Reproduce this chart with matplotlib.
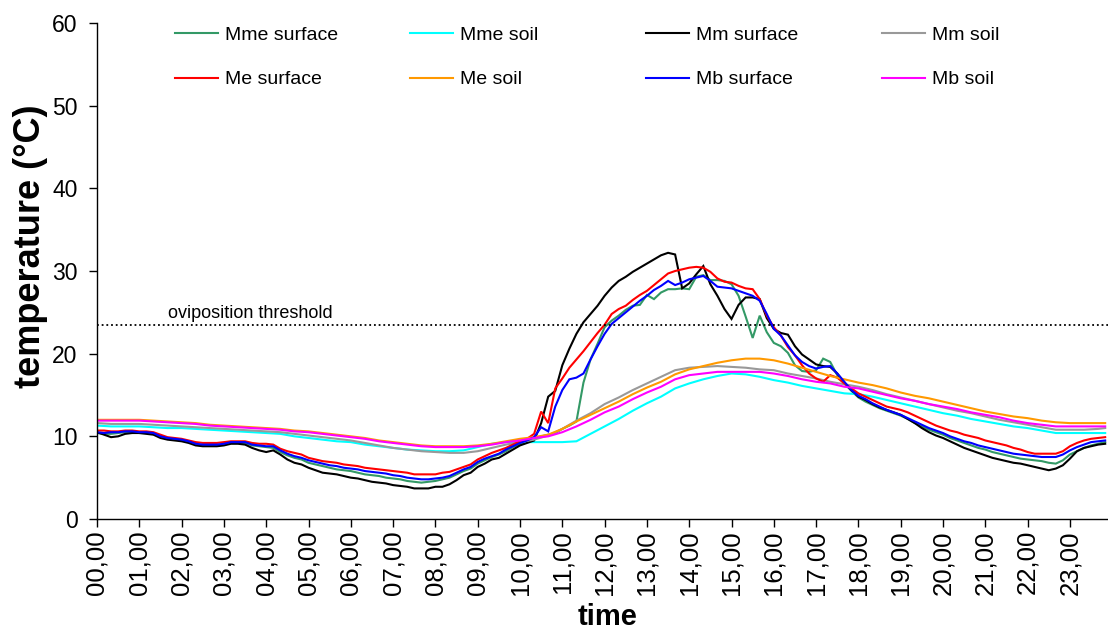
import numpy as np
import matplotlib
matplotlib.use("Agg")
import matplotlib.pyplot as plt

plt.rcParams['font.family'] = ['Liberation Sans', 'DejaVu Sans']

# ---- time axes (hours) ----
t_surf = np.arange(144) / 6.0                        # 10-minute logger readings
t_soil = np.append(np.arange(72) / 3.0, 23 + 5 / 6)  # 20-minute readings

hour_labels = [f"{h:02d},00" for h in range(24)]
threshold = 23.5

# ---- surface temperatures (°C), 10-minute steps ----
mme_surface = [
    10.4, 10.3, 10.3, 10.4, 10.5, 10.5,
    10.4, 10.4, 10.3, 9.9, 9.7, 9.6,
    9.5, 9.3, 9.0, 8.9, 8.9, 8.9,
    9.0, 9.2, 9.2, 9.2, 8.9, 8.8,
    8.7, 8.6, 8.1, 7.7, 7.4, 7.2,
    6.8, 6.6, 6.4, 6.2, 6.0, 5.9,
    5.8, 5.6, 5.4, 5.3, 5.2, 5.0,
    4.9, 4.8, 4.6, 4.5, 4.4, 4.5,
    4.6, 4.8, 5.0, 5.4, 5.8, 6.1,
    6.7, 7.1, 7.5, 7.8, 8.2, 8.7,
    9.1, 9.4, 9.7, 10.0, 10.2, 10.4,
    10.9, 11.3, 11.8, 16.5, 19.3, 21.2,
    23.2, 24.0, 24.6, 25.3, 25.8, 25.9,
    27.1, 26.6, 27.4, 27.8, 27.8, 27.9,
    27.8, 29.3, 29.5, 28.9, 28.9, 28.8,
    28.4, 27.0, 24.5, 21.9, 24.6, 22.6,
    21.3, 20.9, 20.1, 18.6, 17.9, 17.8,
    18.0, 19.4, 19.0, 17.4, 16.4, 15.5,
    14.7, 14.2, 13.8, 13.4, 13.1, 12.8,
    12.5, 12.1, 11.6, 11.2, 10.8, 10.5,
    10.2, 9.8, 9.5, 9.2, 8.9, 8.6,
    8.4, 8.1, 7.9, 7.7, 7.5, 7.3,
    7.2, 7.1, 7.0, 6.8, 6.7, 7.1,
    7.8, 8.2, 8.6, 8.9, 9.1, 9.3,
]

mm_surface = [
    10.5, 10.2, 9.9, 10.0, 10.3, 10.4,
    10.4, 10.3, 10.2, 9.8, 9.6, 9.5,
    9.4, 9.2, 8.9, 8.8, 8.8, 8.8,
    8.9, 9.1, 9.1, 9.0, 8.6, 8.3,
    8.1, 8.3, 7.8, 7.2, 6.8, 6.6,
    6.2, 5.9, 5.6, 5.5, 5.4, 5.2,
    5.0, 4.9, 4.7, 4.5, 4.4, 4.3,
    4.1, 4.0, 3.9, 3.7, 3.7, 3.7,
    3.9, 3.9, 4.2, 4.7, 5.3, 5.6,
    6.3, 6.7, 7.2, 7.4, 7.9, 8.4,
    8.9, 9.2, 9.5, 11.6, 14.8, 15.5,
    18.6, 20.6, 22.4, 23.8, 24.8, 25.8,
    27.0, 28.0, 28.8, 29.3, 29.9, 30.4,
    30.9, 31.4, 31.9, 32.2, 32.0, 27.9,
    28.5, 29.6, 30.6, 28.4, 27.0, 25.4,
    24.2, 25.9, 26.8, 26.8, 26.6, 24.3,
    23.0, 22.5, 22.3, 20.9, 19.9, 19.3,
    18.7, 18.5, 18.4, 17.6, 16.5, 15.6,
    14.8, 14.4, 13.9, 13.5, 13.2, 12.9,
    12.6, 12.1, 11.6, 11.0, 10.5, 10.1,
    9.8, 9.4, 9.0, 8.6, 8.3, 8.0,
    7.7, 7.4, 7.2, 7.0, 6.8, 6.7,
    6.5, 6.3, 6.1, 5.9, 6.1, 6.5,
    7.3, 8.2, 8.6, 8.8, 9.0, 9.1,
]

me_surface = [
    10.7, 10.7, 10.6, 10.6, 10.7, 10.7,
    10.6, 10.6, 10.5, 10.2, 9.9, 9.8,
    9.7, 9.5, 9.3, 9.2, 9.2, 9.2,
    9.3, 9.4, 9.4, 9.4, 9.2, 9.1,
    9.1, 9.0, 8.5, 8.2, 8.0, 7.8,
    7.4, 7.2, 7.0, 6.9, 6.8, 6.6,
    6.5, 6.4, 6.2, 6.1, 6.0, 5.9,
    5.8, 5.7, 5.6, 5.4, 5.4, 5.4,
    5.4, 5.6, 5.7, 6.0, 6.3, 6.6,
    7.2, 7.6, 8.0, 8.3, 8.6, 9.0,
    9.4, 9.7, 10.3, 13.0, 11.6, 15.8,
    17.0, 18.3, 19.3, 20.3, 21.4, 22.5,
    23.5, 24.8, 25.4, 25.8, 26.5, 27.1,
    27.6, 28.3, 29.0, 29.7, 30.0, 30.2,
    30.4, 30.5, 30.4, 29.9, 29.1, 28.7,
    28.6, 28.2, 27.9, 27.8, 26.6, 24.6,
    23.2, 22.2, 20.8, 19.8, 18.6, 17.6,
    17.0, 16.6, 17.4, 17.1, 16.4, 15.8,
    15.2, 14.8, 14.4, 14.0, 13.6, 13.4,
    13.2, 12.9, 12.5, 12.1, 11.7, 11.3,
    11.0, 10.7, 10.5, 10.2, 10.0, 9.8,
    9.5, 9.3, 9.1, 8.9, 8.6, 8.4,
    8.1, 7.9, 7.9, 7.9, 7.9, 8.2,
    8.8, 9.2, 9.5, 9.7, 9.8, 9.9,
]

mb_surface = [
    10.5, 10.4, 10.5, 10.5, 10.6, 10.6,
    10.5, 10.5, 10.4, 10.0, 9.8, 9.7,
    9.6, 9.4, 9.1, 9.0, 9.0, 9.0,
    9.1, 9.3, 9.3, 9.3, 9.0, 8.9,
    8.8, 8.8, 8.3, 7.9, 7.6, 7.4,
    7.1, 6.9, 6.7, 6.5, 6.4, 6.2,
    6.1, 6.0, 5.8, 5.7, 5.6, 5.5,
    5.3, 5.2, 5.0, 4.9, 4.8, 4.8,
    4.9, 5.0, 5.2, 5.6, 6.0, 6.3,
    6.9, 7.3, 7.6, 7.9, 8.4, 8.8,
    9.2, 9.5, 9.9, 11.1, 10.6, 13.6,
    15.6, 16.9, 17.1, 17.6, 19.3, 20.9,
    22.4, 23.6, 24.3, 25.0, 25.7, 26.4,
    27.0, 27.7, 28.2, 28.8, 28.3, 28.6,
    29.0, 29.2, 29.4, 28.8, 28.1, 28.0,
    27.9, 27.6, 27.3, 27.0, 26.4, 24.8,
    23.0, 22.2, 21.0, 19.8, 19.0, 18.5,
    18.2, 18.4, 18.5, 17.6, 16.6, 15.6,
    14.9, 14.5, 14.0, 13.6, 13.2, 12.9,
    12.6, 12.2, 11.8, 11.4, 11.0, 10.7,
    10.4, 10.0, 9.7, 9.4, 9.2, 8.9,
    8.7, 8.5, 8.3, 8.1, 7.9, 7.8,
    7.7, 7.6, 7.5, 7.5, 7.5, 7.8,
    8.3, 8.7, 9.0, 9.3, 9.4, 9.5,
]

# ---- soil temperatures (°C), 20-minute steps ----
mme_soil = [
    11.3, 11.2, 11.2, 11.2, 11.1, 11.0, 11.0, 10.9, 10.8,
    10.7, 10.6, 10.5, 10.4, 10.3, 10.0, 9.8, 9.6, 9.4,
    9.3, 9.0, 8.8, 8.6, 8.4, 8.3, 8.2, 8.2, 8.3,
    8.7, 9.1, 9.3, 9.3, 9.3, 9.3, 9.3, 9.4, 10.3,
    11.2, 12.1, 13.1, 14.0, 14.8, 15.8, 16.4, 16.9, 17.3,
    17.6, 17.5, 17.2, 16.8, 16.5, 16.1, 15.8, 15.5, 15.2,
    15.1, 14.8, 14.4, 14.0, 13.6, 13.2, 12.8, 12.5, 12.1,
    11.8, 11.5, 11.2, 11.0, 10.7, 10.4, 10.4, 10.4, 10.4,
    10.4,
]

mm_soil = [
    11.6, 11.5, 11.5, 11.5, 11.4, 11.3, 11.2, 11.1, 11.0,
    10.9, 10.8, 10.7, 10.6, 10.5, 10.3, 10.1, 9.9, 9.7,
    9.5, 9.2, 8.9, 8.6, 8.4, 8.2, 8.1, 8.0, 8.0,
    8.2, 8.6, 9.0, 9.3, 9.6, 10.1, 10.9, 11.9, 12.8,
    13.9, 14.7, 15.6, 16.4, 17.2, 18.0, 18.3, 18.4, 18.5,
    18.4, 18.3, 18.1, 18.0, 17.6, 17.3, 17.0, 16.6, 16.3,
    16.0, 15.6, 15.1, 14.7, 14.3, 13.9, 13.5, 13.1, 12.8,
    12.4, 12.0, 11.7, 11.4, 11.1, 10.8, 10.8, 10.8, 10.9,
    11.0,
]

me_soil = [
    12.0, 12.0, 12.0, 12.0, 11.9, 11.8, 11.7, 11.6, 11.4,
    11.3, 11.2, 11.1, 11.0, 10.9, 10.7, 10.6, 10.4, 10.2,
    10.0, 9.8, 9.5, 9.3, 9.1, 8.9, 8.8, 8.8, 8.8,
    8.9, 9.1, 9.4, 9.7, 9.9, 10.2, 10.9, 11.8, 12.6,
    13.4, 14.2, 15.1, 15.9, 16.6, 17.5, 18.1, 18.5, 18.9,
    19.2, 19.4, 19.4, 19.2, 18.8, 18.3, 17.8, 17.3, 16.9,
    16.5, 16.2, 15.8, 15.3, 14.9, 14.6, 14.2, 13.8, 13.4,
    13.0, 12.7, 12.4, 12.2, 11.9, 11.7, 11.6, 11.6, 11.6,
    11.6,
]

mb_soil = [
    11.9, 11.9, 11.9, 11.9, 11.8, 11.7, 11.6, 11.5, 11.3,
    11.2, 11.1, 11.0, 10.9, 10.8, 10.6, 10.5, 10.3, 10.1,
    9.9, 9.7, 9.4, 9.2, 9.0, 8.8, 8.7, 8.7, 8.7,
    8.8, 9.0, 9.3, 9.5, 9.8, 10.0, 10.5, 11.2, 12.0,
    12.9, 13.6, 14.5, 15.3, 16.0, 16.9, 17.4, 17.6, 17.8,
    17.8, 17.8, 17.8, 17.6, 17.3, 16.9, 16.6, 16.4, 16.0,
    15.8, 15.4, 15.0, 14.6, 14.3, 13.9, 13.6, 13.3, 12.9,
    12.6, 12.3, 11.9, 11.6, 11.4, 11.2, 11.2, 11.2, 11.2,
    11.2,
]

series = [
    ("Mme surface", t_surf, mme_surface, "#339966"),
    ("Mme soil", t_soil, mme_soil, "#00FFFF"),
    ("Mm surface", t_surf, mm_surface, "#000000"),
    ("Mm soil", t_soil, mm_soil, "#999999"),
    ("Me surface", t_surf, me_surface, "#FF0000"),
    ("Me soil", t_soil, me_soil, "#FF9900"),
    ("Mb surface", t_surf, mb_surface, "#0000FF"),
    ("Mb soil", t_soil, mb_soil, "#FF00FF"),
]

fig = plt.figure(figsize=(11.08, 6.37), dpi=100)
ax = fig.add_axes([97 / 1108, 1 - 519 / 637, 1 - 97 / 1108, (519 - 23) / 637])

handles = {}
for name, t, vals, col in series:
    (ln,) = ax.plot(t, vals, color=col, lw=1.5, label=name, solid_joinstyle="miter")
    handles[name] = ln

ax.axhline(threshold, color="black", lw=1.3, linestyle=(0, (1, 1.6)))
ax.text(1.69, threshold + 0.35, "oviposition threshold", fontsize=13,
        ha="left", va="bottom")

ax.set_xlim(0, 23.9)
ax.set_ylim(0, 60)
ax.set_yticks(range(0, 61, 10))
ax.set_xticks(range(24))
ax.set_xticklabels(hour_labels, rotation=90, fontsize=18.5)
ax.tick_params(axis="y", labelsize=16.5, length=6, width=1, pad=8)
ax.tick_params(axis="x", length=6, width=1, pad=2)

for side in ("top", "right"):
    ax.spines[side].set_visible(False)
for side in ("left", "bottom"):
    ax.spines[side].set_linewidth(1.0)

ax.set_ylabel("temperature (°C)", fontsize=26, fontweight="bold")
ax.yaxis.set_label_coords(-0.048, 0.55)
ax.set_xlabel("time", fontsize=21, fontweight="bold")
ax.xaxis.set_label_coords(0.505, -0.17)

# legend: four columns of two entries each
columns = [("Mme surface", "Me surface"), ("Mme soil", "Me soil"),
           ("Mm surface", "Mb surface"), ("Mm soil", "Mb soil")]
col_x = [175, 410, 646, 882]
for names, x in zip(columns, col_x):
    fig.legend([handles[n] for n in names], list(names),
               loc="upper left", bbox_to_anchor=(x / 1108, 1 - 26 / 637),
               frameon=False, fontsize=14, handlelength=2.2,
               handletextpad=0.35, labelspacing=1.4, borderpad=0,
               borderaxespad=0)

fig.savefig("out.png", dpi=100)
